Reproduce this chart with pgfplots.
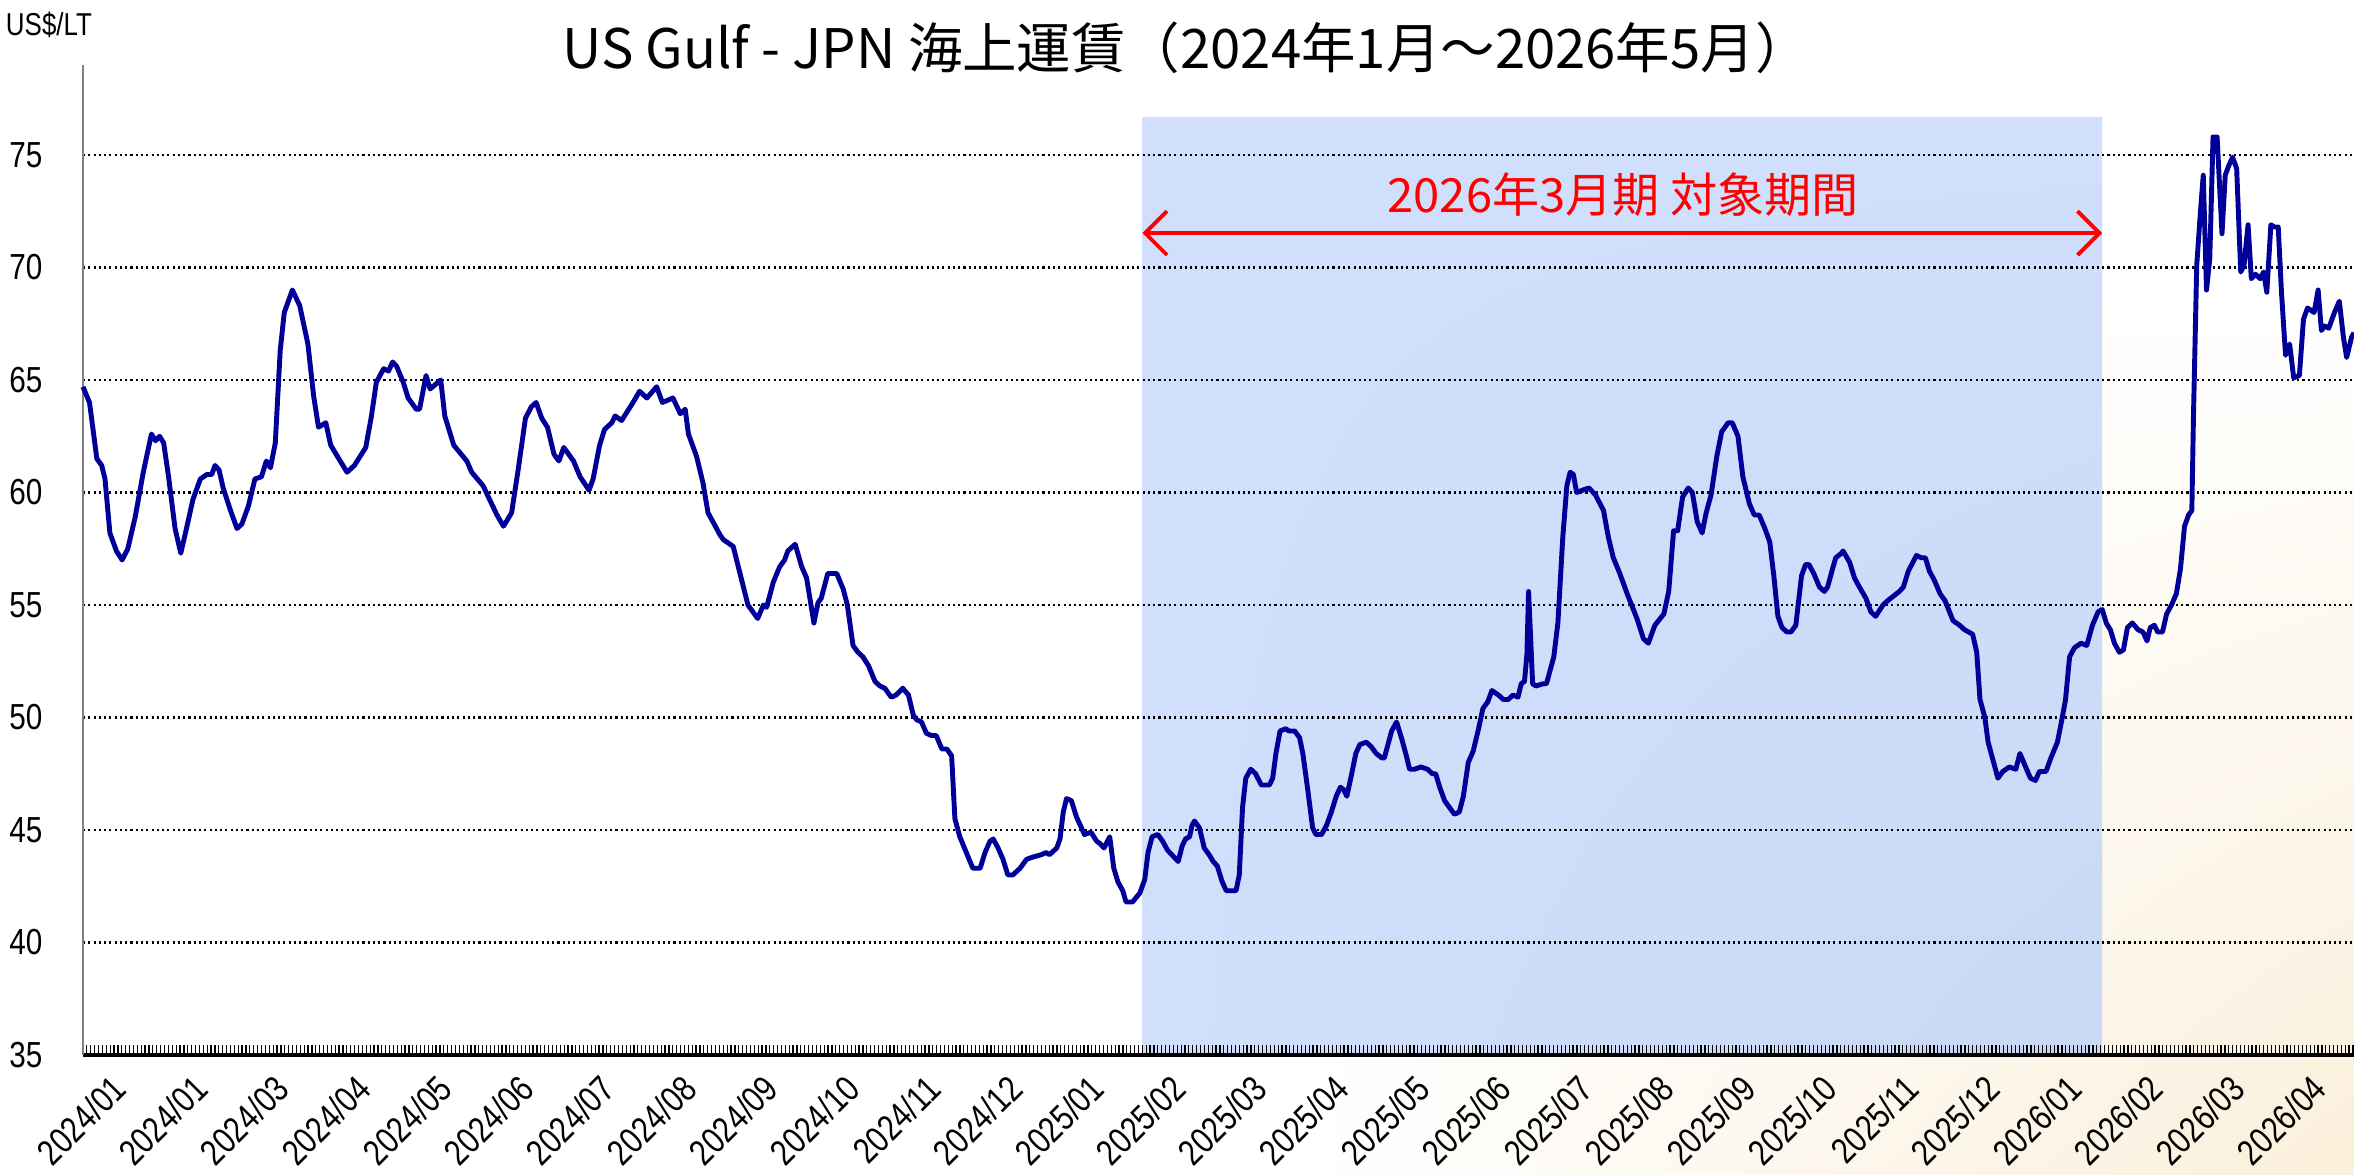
\documentclass[border=0pt]{standalone}
\usepackage{fontspec}
\setmainfont{Liberation Sans}
\newfontfamily\narrow{Liberation Sans}[FakeStretch=0.82]
\newfontfamily\jp{Noto Sans CJK JP}
\usepackage{pgfplots}
\pgfplotsset{compat=1.18}
\usetikzlibrary{arrows.meta,shadings}
\definecolor{navy}{RGB}{0,0,153}
\definecolor{period}{RGB}{208,223,252}
\definecolor{periodlr}{RGB}{201,216,243}
\definecolor{cream}{RGB}{250,239,218}

\begin{document}
\begin{tikzpicture}
\begin{axis}[
  at={(0.83cm,1.20cm)}, anchor=south west,
  scale only axis, width=22.71cm, height=9.90cm,
  set layers, clip=false,
  xmin=0, xmax=27.87, ymin=35, ymax=79,
  axis x line*=bottom, axis y line*=left,
  x axis line style={black, line width=0.9pt},
  y axis line style={gray, line width=0.6pt},
  ytick={35,40,...,75},
  ytick style={draw=none},
  ymajorgrids,
  major grid style={black, line width=0.6pt, dash pattern=on 0.6pt off 0.9pt},
  xtick={0,...,28},
  xticklabels={2024/01,2024/01,2024/03,2024/04,2024/05,2024/06,2024/07,2024/08,2024/09,2024/10,2024/11,2024/12,
    2025/01,2025/02,2025/03,2025/04,2025/05,2025/06,2025/07,2025/08,2025/09,2025/10,2025/11,2025/12,
    2026/01,2026/02,2026/03,2026/04,},
  minor x tick num=20,
  tick align=inside,
  major tick length=1mm, minor tick length=1mm,
  xtick style={black, line width=0.35pt},
  minor tick style={black, line width=0.35pt},
  /pgf/number format/assume math mode=true,
  yticklabel style={font=\narrow\fontsize{10.3}{11}\selectfont, anchor=east, inner sep=0pt, xshift=-4mm},
  xticklabel style={font=\narrow\fontsize{10.3}{11}\selectfont, rotate=45, anchor=north east, inner sep=0pt, xshift=0.7mm, yshift=-3.1mm},
]
\begin{pgfonlayer}{axis background}
\fill[white] (rel axis cs:-0.0366,-0.1213) rectangle (rel axis cs:1.0,1.0657);
\shade[upper left=white, upper right=white, lower left=white, lower right=cream]
  (rel axis cs:0.536,-0.1213) rectangle (rel axis cs:1.0,0.7626);
\shade[upper left=period, upper right=period, lower left=period, lower right=periodlr]
  (axis cs:13.0,35) rectangle (axis cs:24.78,76.67);
\end{pgfonlayer}

% US Gulf - JPN freight (x = months from 2024/01)
\addplot[navy, line width=1.4pt, line join=round] coordinates {
(0.00,64.7) (0.08,64.0) (0.17,61.5) (0.23,61.2) (0.27,60.6) (0.33,58.2) (0.41,57.4) (0.48,57.0)
(0.55,57.5) (0.64,58.9) (0.74,60.9) (0.84,62.6) (0.89,62.3) (0.94,62.5) (0.99,62.2) (1.05,60.7)
(1.13,58.4) (1.20,57.3) (1.27,58.4) (1.35,59.7) (1.44,60.6) (1.52,60.8) (1.58,60.8) (1.62,61.2)
(1.67,61.0) (1.72,60.2) (1.81,59.2) (1.89,58.4) (1.95,58.6) (2.03,59.4) (2.11,60.6) (2.19,60.7)
(2.25,61.4) (2.30,61.1) (2.36,62.2) (2.42,66.3) (2.47,68.0) (2.57,69.0) (2.66,68.3) (2.76,66.6)
(2.83,64.3) (2.89,62.9) (2.98,63.1) (3.04,62.1) (3.14,61.5) (3.24,60.9) (3.33,61.2) (3.47,62.0)
(3.54,63.4) (3.60,64.9) (3.69,65.5) (3.75,65.4) (3.80,65.8) (3.85,65.6) (3.93,64.9) (3.99,64.2)
(4.09,63.7) (4.13,63.7) (4.21,65.2) (4.26,64.6) (4.39,65.0) (4.44,63.4) (4.55,62.1) (4.71,61.4)
(4.77,60.9) (4.91,60.3) (5.08,59.0) (5.16,58.5) (5.26,59.1) (5.34,61.0) (5.43,63.3) (5.50,63.8)
(5.56,64.0) (5.63,63.3) (5.70,62.9) (5.78,61.7) (5.84,61.4) (5.90,62.0) (6.02,61.4) (6.10,60.7)
(6.21,60.1) (6.26,60.6) (6.34,62.1) (6.40,62.8) (6.49,63.1) (6.53,63.4) (6.61,63.2) (6.75,64.0)
(6.83,64.5) (6.92,64.2) (7.04,64.7) (7.11,64.0) (7.24,64.2) (7.33,63.5) (7.39,63.7) (7.43,62.6)
(7.53,61.6) (7.61,60.4) (7.67,59.1) (7.76,58.5) (7.82,58.1) (7.86,57.9) (7.98,57.6) (8.16,55.0)
(8.28,54.4) (8.35,55.0) (8.39,54.9) (8.47,56.0) (8.55,56.7) (8.61,57.0) (8.65,57.4) (8.74,57.7)
(8.82,56.7) (8.88,56.2) (8.97,54.2) (9.02,55.1) (9.06,55.3) (9.14,56.4) (9.18,56.4) (9.25,56.4)
(9.33,55.7) (9.38,55.0) (9.45,53.2) (9.51,52.9) (9.57,52.7) (9.64,52.3) (9.72,51.6) (9.78,51.4)
(9.84,51.3) (9.92,50.9) (9.98,51.0) (10.06,51.3) (10.13,51.0) (10.19,50.1) (10.23,49.9) (10.29,49.8)
(10.35,49.3) (10.41,49.2) (10.47,49.2) (10.54,48.6) (10.60,48.6) (10.66,48.3) (10.70,45.5) (10.76,44.7)
(10.84,44.0) (10.92,43.3) (11.01,43.3) (11.07,44.0) (11.13,44.5) (11.17,44.6) (11.23,44.2) (11.29,43.7)
(11.35,43.0) (11.41,43.0) (11.50,43.3) (11.58,43.7) (11.66,43.8) (11.76,43.9) (11.82,44.0) (11.86,43.9)
(11.95,44.2) (11.99,44.6) (12.03,45.8) (12.07,46.4) (12.13,46.3) (12.19,45.6) (12.29,44.8) (12.37,44.9)
(12.44,44.5) (12.48,44.4) (12.53,44.2) (12.60,44.7) (12.65,43.3) (12.70,42.7) (12.76,42.3) (12.80,41.8)
(12.88,41.8) (12.97,42.2) (13.03,42.8) (13.07,44.0) (13.12,44.7) (13.19,44.8) (13.25,44.5) (13.31,44.1)
(13.44,43.6) (13.49,44.3) (13.53,44.6) (13.58,44.7) (13.61,45.2) (13.64,45.4) (13.70,45.1) (13.76,44.2)
(13.82,43.9) (13.87,43.6) (13.92,43.4) (13.98,42.7) (14.03,42.3) (14.15,42.3) (14.19,43.0) (14.23,46.0)
(14.27,47.3) (14.33,47.7) (14.39,47.5) (14.46,47.0) (14.56,47.0) (14.60,47.3) (14.64,48.4) (14.69,49.4)
(14.76,49.5) (14.80,49.4) (14.87,49.4) (14.93,49.1) (14.97,48.4) (15.03,46.8) (15.09,45.1) (15.13,44.8)
(15.20,44.8) (15.26,45.2) (15.32,45.8) (15.38,46.5) (15.43,46.9) (15.47,46.8) (15.51,46.5) (15.57,47.5)
(15.62,48.4) (15.67,48.8) (15.75,48.9) (15.81,48.7) (15.87,48.4) (15.94,48.2) (15.97,48.2) (16.06,49.4)
(16.12,49.8) (16.18,49.1) (16.24,48.3) (16.28,47.7) (16.34,47.7) (16.42,47.8) (16.50,47.7) (16.56,47.5)
(16.60,47.5) (16.65,46.9) (16.71,46.3) (16.77,46.0) (16.83,45.7) (16.89,45.8) (16.94,46.5) (17.00,48.0)
(17.06,48.5) (17.12,49.4) (17.18,50.4) (17.24,50.7) (17.29,51.2) (17.37,51.0) (17.43,50.8) (17.49,50.8)
(17.55,51.0) (17.61,50.9) (17.65,51.5) (17.69,51.6) (17.72,52.8) (17.74,55.6) (17.76,54.0) (17.79,51.5)
(17.83,51.4) (17.92,51.5) (17.96,51.5) (18.05,52.7) (18.10,54.2) (18.16,58.0) (18.21,60.3) (18.25,60.9)
(18.29,60.8) (18.33,60.0) (18.40,60.1) (18.48,60.2) (18.56,59.9) (18.66,59.2) (18.72,58.0) (18.78,57.1)
(18.86,56.4) (18.95,55.5) (19.07,54.4) (19.15,53.5) (19.21,53.3) (19.29,54.1) (19.40,54.6) (19.46,55.6)
(19.52,58.3) (19.57,58.3) (19.63,59.8) (19.70,60.2) (19.75,60.0) (19.81,58.7) (19.87,58.2) (19.92,59.1)
(19.98,59.9) (20.05,61.6) (20.11,62.7) (20.19,63.1) (20.24,63.1) (20.31,62.5) (20.37,60.7) (20.45,59.5)
(20.51,59.0) (20.57,59.0) (20.64,58.4) (20.70,57.8) (20.75,56.3) (20.80,54.5) (20.85,54.0) (20.91,53.8)
(20.96,53.8) (21.02,54.1) (21.09,56.3) (21.14,56.8) (21.18,56.8) (21.24,56.4) (21.31,55.8) (21.37,55.6)
(21.41,55.8) (21.47,56.6) (21.51,57.1) (21.58,57.3) (21.60,57.4) (21.68,56.9) (21.74,56.2) (21.80,55.8)
(21.88,55.3) (21.94,54.7) (22.00,54.5) (22.09,55.0) (22.15,55.2) (22.29,55.6) (22.34,55.8) (22.40,56.5)
(22.50,57.2) (22.56,57.1) (22.61,57.1) (22.66,56.5) (22.72,56.1) (22.79,55.5) (22.85,55.2) (22.95,54.3)
(23.03,54.1) (23.09,53.9) (23.19,53.7) (23.24,52.9) (23.28,50.8) (23.34,50.0) (23.38,48.9) (23.44,48.1)
(23.50,47.3) (23.56,47.6) (23.64,47.8) (23.72,47.7) (23.77,48.4) (23.84,47.8) (23.90,47.3) (23.96,47.2)
(24.01,47.6) (24.09,47.6) (24.15,48.2) (24.23,48.9) (24.29,50.0) (24.33,50.8) (24.38,52.7) (24.44,53.1)
(24.52,53.3) (24.59,53.2) (24.66,54.1) (24.73,54.7) (24.78,54.8) (24.83,54.2) (24.88,53.9) (24.93,53.3)
(24.99,52.9) (25.04,53.0) (25.09,54.0) (25.15,54.2) (25.22,53.9) (25.28,53.8) (25.33,53.4) (25.37,54.0)
(25.42,54.1) (25.46,53.8) (25.52,53.8) (25.57,54.6) (25.63,55.0) (25.69,55.5) (25.74,56.6) (25.79,58.5)
(25.84,59.0) (25.88,59.2) (25.90,63.4) (25.94,70.1) (25.98,72.2) (26.02,74.1) (26.06,69.0) (26.10,70.4)
(26.14,75.8) (26.19,75.8) (26.25,71.5) (26.29,74.1) (26.33,74.5) (26.38,74.9) (26.43,74.4) (26.48,69.8)
(26.52,70.1) (26.57,71.9) (26.61,69.5) (26.66,69.7) (26.72,69.5) (26.76,69.8) (26.80,68.9) (26.85,71.9)
(26.89,71.8) (26.94,71.8) (26.98,68.9) (27.03,66.1) (27.08,66.6) (27.13,65.1) (27.20,65.2) (27.25,67.7)
(27.30,68.2) (27.38,68.0) (27.43,69.0) (27.47,67.2) (27.51,67.4) (27.56,67.3) (27.63,68.0) (27.69,68.5)
(27.74,66.9) (27.78,66.0) (27.84,66.9) (27.87,67.1)
};

\draw[red, line width=1.1pt, line cap=round,
  {Straight Barb[length=2.2mm,width=4.4mm]}-{Straight Barb[length=2.2mm,width=4.4mm]}]
  (axis cs:13.0,71.53) -- (axis cs:24.78,71.53);
\node[red, font=\jp\fontsize{13.4}{15}\selectfont] at (axis cs:18.9,73.25) {2026年3月期 対象期間};
\end{axis}
\node[font=\jp\fontsize{15.5}{18}\selectfont] at (11.86cm,11.27cm) {US Gulf - JPN 海上運賃（2024年1月～2026年5月）};
\node[font=\narrow\fontsize{9}{10}\selectfont] at (0.49cm,11.50cm) {US\$/LT};
\pgfresetboundingbox
\path[use as bounding box] (0,0) rectangle (23.54cm,11.75cm);
\end{tikzpicture}
\end{document}
